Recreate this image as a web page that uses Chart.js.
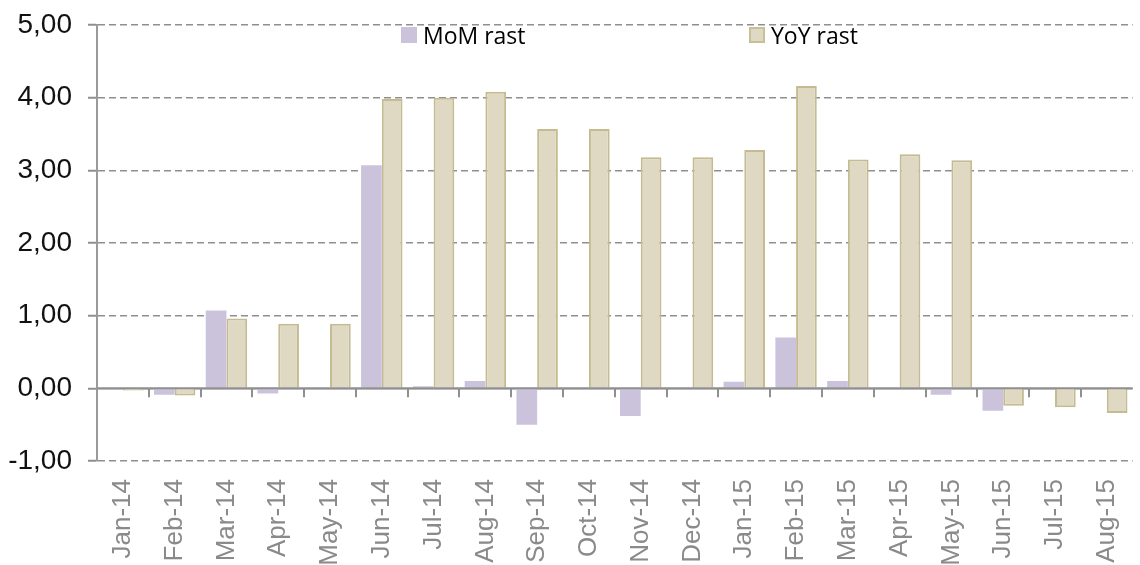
<!DOCTYPE html>
<html>
<head>
<meta charset="utf-8">
<title>MoM / YoY rast</title>
<script src="https://cdn.jsdelivr.net/npm/chart.js@4.4.1/dist/chart.umd.min.js"></script>
<style>
  html, body { margin: 0; padding: 0; background: #fff; overflow: hidden; }
  #wrap { position: relative; width: 1148px; height: 565px; }
  .legend-item {
    position: absolute; top: 20px; height: 30px;
    display: flex; align-items: center;
    font-family: "Open Sans", sans-serif; font-size: 23px; color: #000;
  }
  .swatch { width: 16px; height: 16px; margin-right: 6px; box-sizing: border-box; }
</style>
</head>
<body>
<div id="wrap">
  <canvas id="growth-chart" width="1148" height="565"></canvas>
  <div class="legend-item" style="left:401px"><span class="swatch" style="background:#cbc3dc"></span>MoM rast</div>
  <div class="legend-item" style="left:749px"><span class="swatch" style="background:#dfd9c3;border:2px solid #c7bf98"></span>YoY rast</div>
</div>
<script>
"use strict"

// months on the x axis
const months = ["Jan-14", "Feb-14", "Mar-14", "Apr-14", "May-14", "Jun-14", "Jul-14", "Aug-14", "Sep-14", "Oct-14",
    "Nov-14", "Dec-14", "Jan-15", "Feb-15", "Mar-15", "Apr-15", "May-15", "Jun-15", "Jul-15", "Aug-15"];

// month on month growth (%)
const momGrowth = [-0.02, -0.09, 1.07, -0.07, 0, 3.07, 0.03, 0.10, -0.50, 0,
    -0.38, 0, 0.09, 0.70, 0.10, 0, -0.09, -0.31, 0, 0];

// year on year growth (%)
const yoyGrowth = [-0.03, -0.10, 0.96, 0.89, 0.89, 3.98, 4.00, 4.08, 3.57, 3.57,
    3.18, 3.18, 3.28, 4.16, 3.15, 3.22, 3.14, -0.24, -0.26, -0.34];

// y axis range
const yMin = -1;
const yMax = 5;


// zero line with the little category ticks under it
const zeroAxis = {
    id: "zeroAxis",
    afterDatasetsDraw(chart) {
        const x = chart.scales.x;
        const y = chart.scales.y;
        const ctx = chart.ctx;
        const y0 = y.getPixelForValue(0);
        const half = (x.getPixelForValue(1) - x.getPixelForValue(0)) / 2;

        ctx.save();
        ctx.strokeStyle = "#8f8f8f";
        ctx.lineWidth = 2;
        ctx.beginPath();
        ctx.moveTo(chart.chartArea.left, y0);
        ctx.lineTo(chart.chartArea.right, y0);
        for (let i = 1; i < months.length; i++) {
            const px = Math.round(x.getPixelForValue(i) - half);
            ctx.moveTo(px, y0);
            ctx.lineTo(px, y0 + 9);
        }
        ctx.stroke();
        ctx.restore();
    }
};


const ctx = document.getElementById("growth-chart");

new Chart(ctx, {
    type: "bar",
    data: {
        labels: months,
        datasets: [{
            label: "MoM rast",
            data: momGrowth,
            backgroundColor: "#cbc3dc",
            borderWidth: 0,
        },
        {
            label: "YoY rast",
            data: yoyGrowth,
            backgroundColor: "#dfd9c3",
            borderColor: "#c4bb92",
            borderWidth: 2,
        }]
    },
    plugins: [zeroAxis],
    options: {
        responsive: false,
        animation: false,
        layout: { padding: { top: 25, right: 1, left: 0, bottom: 0 } },
        categoryPercentage: 0.8,
        barPercentage: 1.0,
        plugins: {
            legend: { display: false },
            tooltip: { enabled: false }
        },
        scales: {
            x: {
                grid: { display: false },
                border: { display: false },
                ticks: {
                    color: "#8a8a8a",
                    font: { family: "'Liberation Sans', Arial, sans-serif", size: 26 },
                    maxRotation: 90,
                    minRotation: 90,
                    padding: 10,
                    autoSkip: false
                },
                afterFit: (scale) => { scale.height = 104; }
            },
            y: {
                min: yMin,
                max: yMax,
                ticks: {
                    stepSize: 1,
                    color: "#111",
                    padding: 16,
                    font: { family: "'Liberation Sans', Arial, sans-serif", size: 28 },
                    callback: (v) => v.toFixed(2).replace(".", ",")
                },
                grid: {
                    color: "#8f8f8f",
                    lineWidth: 1.5,
                    tickLength: 9,
                    tickColor: "#8f8f8f",
                    tickWidth: 2,
                    tickBorderDash: []
                },
                border: {
                    color: "#9a9a9a",
                    width: 2,
                    dash: (c) => (c.tick && c.tick.value === 0 ? [] : [7, 4])
                },
                afterFit: (scale) => {
                    scale.width = 97;
                    scale.paddingTop = 0;
                    scale.paddingBottom = 0;
                }
            }
        }
    }
});
</script>
</body>
</html>
